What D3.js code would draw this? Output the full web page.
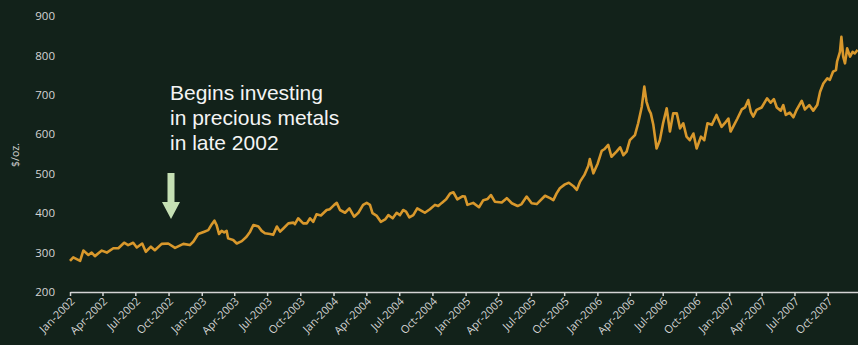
<!DOCTYPE html>
<html>
<head>
<meta charset="utf-8">
<script src="https://cdn.jsdelivr.net/npm/d3@7"></script>
<style>
  html, body { margin: 0; padding: 0; background: #12221a; }
  svg { display: block; }
</style>
</head>
<body>
<svg id="chart" width="858" height="345"></svg>
<script>
// gold price, $/oz
const dates = [
  "2002-01-01","2002-01-10","2002-01-29","2002-02-07","2002-02-21","2002-03-02","2002-03-11","2002-03-30",
  "2002-04-13","2002-05-01","2002-05-15","2002-05-31","2002-06-11","2002-06-25","2002-07-05","2002-07-20",
  "2002-07-30","2002-08-13","2002-08-24","2002-09-12","2002-09-30","2002-10-19","2002-11-11","2002-11-29",
  "2002-12-09","2002-12-22","2003-01-08","2003-01-19","2003-01-29","2003-02-05","2003-02-11","2003-02-18",
  "2003-02-25","2003-03-04","2003-03-11","2003-03-15","2003-03-29","2003-04-08","2003-04-22","2003-05-05",
  "2003-05-15","2003-05-24","2003-06-07","2003-06-16","2003-06-25","2003-07-09","2003-07-18","2003-07-28",
  "2003-08-06","2003-08-15","2003-08-29","2003-09-12","2003-09-16","2003-09-25","2003-10-09","2003-10-19",
  "2003-10-28","2003-11-06","2003-11-15","2003-11-27","2003-12-13","2003-12-22","2004-01-03","2004-01-10",
  "2004-01-19","2004-02-02","2004-02-14","2004-02-27","2004-03-10","2004-03-23","2004-04-02","2004-04-11",
  "2004-04-18","2004-04-30","2004-05-11","2004-05-23","2004-06-01","2004-06-13","2004-06-24","2004-07-03",
  "2004-07-12","2004-07-20","2004-07-29","2004-08-09","2004-08-20","2004-09-01","2004-09-10","2004-09-24",
  "2004-10-08","2004-10-17","2004-10-27","2004-11-08","2004-11-19","2004-11-28","2004-12-09","2004-12-24",
  "2004-12-30","2005-01-06","2005-01-22","2005-02-07","2005-02-19","2005-03-03","2005-03-12","2005-03-23",
  "2005-04-11","2005-04-25","2005-05-09","2005-05-25","2005-06-05","2005-06-19","2005-07-03","2005-07-17",
  "2005-08-09","2005-08-23","2005-09-01","2005-09-10","2005-09-19","2005-10-03","2005-10-14","2005-10-26",
  "2005-11-05","2005-11-14","2005-11-26","2005-12-07","2005-12-11","2005-12-21","2006-01-02","2006-01-13",
  "2006-01-20","2006-01-31","2006-02-09","2006-02-23","2006-03-05","2006-03-14","2006-03-23","2006-04-01",
  "2006-04-15","2006-04-24","2006-05-04","2006-05-11","2006-05-17","2006-05-24","2006-05-29","2006-06-05",
  "2006-06-14","2006-06-23","2006-07-02","2006-07-12","2006-07-21","2006-07-30","2006-08-09","2006-08-18",
  "2006-08-27","2006-09-05","2006-09-14","2006-09-24","2006-10-03","2006-10-15","2006-10-24","2006-11-02",
  "2006-11-14","2006-11-27","2006-12-11","2006-12-20","2006-12-30","2007-01-05","2007-01-12","2007-01-24",
  "2007-02-05","2007-02-14","2007-02-23","2007-03-02","2007-03-09","2007-03-18","2007-04-01","2007-04-16",
  "2007-04-26","2007-05-05","2007-05-13","2007-05-24","2007-05-31","2007-06-07","2007-06-18","2007-06-28",
  "2007-07-07","2007-07-21","2007-07-30","2007-08-11","2007-08-22","2007-09-02","2007-09-10","2007-09-19",
  "2007-09-30","2007-10-07","2007-10-16","2007-10-24","2007-10-27","2007-11-04","2007-11-08","2007-11-13",
  "2007-11-18","2007-11-24","2007-12-02","2007-12-09","2007-12-15","2007-12-23"
]
const prices = [
  279,288,279,305,294,300,291,305,
  300,311,311,325,319,325,313,323,
  302,315,306,322,323,312,322,319,
  328,347,353,357,372,381,370,347,
  355,351,355,336,332,323,329,340,
  353,370,366,355,349,347,345,366,
  353,361,374,376,372,387,374,374,
  387,378,397,394,408,410,421,426,
  408,401,412,391,401,421,426,421,
  400,393,378,384,395,387,401,395,
  408,404,389,395,412,406,401,410,
  421,418,426,435,450,453,435,443,
  442,421,426,415,433,436,446,429,
  427,438,425,418,423,442,425,423,
  444,438,433,450,463,473,477,469,
  459,480,497,520,537,501,526,558,
  562,573,543,556,567,547,556,585,
  598,628,670,721,683,662,653,624,
  564,585,628,666,607,653,653,615,
  628,594,585,602,564,594,585,628,
  624,649,619,628,640,607,619,640,
  663,668,687,657,645,662,668,691,
  680,689,668,660,674,649,655,643,
  662,685,663,674,660,674,708,729,
  742,738,759,763,784,809,847,797,
  780,818,797,809,805,814
]

const xTicks = ["Jan-2002","Apr-2002","Jul-2002","Oct-2002","Jan-2003","Apr-2003","Jul-2003","Oct-2003",
  "Jan-2004","Apr-2004","Jul-2004","Oct-2004","Jan-2005","Apr-2005","Jul-2005","Oct-2005",
  "Jan-2006","Apr-2006","Jul-2006","Oct-2006","Jan-2007","Apr-2007","Jul-2007","Oct-2007"]
const yTicks = [200, 300, 400, 500, 600, 700, 800, 900]
const noteLines = ["Begins investing", "in precious metals", "in late 2002"]

const parseDay = d3.timeParse("%Y-%m-%d")
const parseTick = d3.timeParse("%b-%Y")
const series = dates.map((d, i) => ({date: parseDay(d), price: prices[i]}))

const axisColor = "#d4d4d4"
const svg = d3.select("#chart")

const x = d3.scaleTime([parseDay("2002-01-01"), parseDay("2007-12-24")], [70, 858])
const y = d3.scaleLinear([200, 900], [292, 16])

// x axis
const xAxis = d3.axisBottom(x)
  .tickValues(xTicks.map(parseTick))
  .tickFormat(d3.timeFormat("%b-%Y"))
  .tickSize(4)
  .tickSizeOuter(0)

const gx = svg.append("g")
  .attr("transform", "translate(0, 292)")
  .call(xAxis)
gx.select(".domain").attr("stroke", axisColor).attr("stroke-width", 1.5)
gx.selectAll(".tick line").attr("stroke", axisColor).attr("stroke-width", 1.5)
gx.selectAll(".tick text")
  .attr("fill", axisColor)
  .attr("font-family", "Open Sans")
  .attr("font-size", "11px")
  .attr("text-anchor", "end")
  .attr("dy", 0)
  .attr("y", 0)
  .attr("transform", "translate(5, 10) rotate(-45)")

// y axis, labels only
const yAxis = d3.axisLeft(y).tickValues(yTicks).tickSize(0).tickPadding(0)
const gy = svg.append("g")
  .attr("transform", "translate(55, 0)")
  .call(yAxis)
gy.select(".domain").remove()
gy.selectAll(".tick text")
  .attr("fill", axisColor)
  .attr("font-family", "Open Sans")
  .attr("font-size", "11.5px")

svg.append("text")
  .text("$/oz.")
  .attr("transform", "translate(19, 155) rotate(-90)")
  .attr("text-anchor", "middle")
  .attr("font-family", "Open Sans")
  .attr("font-size", "10.5px")
  .attr("fill", axisColor)

// price line
const line = d3.line()
  .x(d => x(d.date))
  .y(d => y(d.price))

svg.append("path")
  .datum(series)
  .attr("d", line)
  .attr("fill", "none")
  .attr("stroke", "#d8982c")
  .attr("stroke-width", 2.6)
  .attr("stroke-linejoin", "round")

// annotation
svg.append("g")
  .selectAll("text")
  .data(noteLines)
  .join("text")
  .text(d => d)
  .attr("x", 170)
  .attr("y", (d, i) => 100 + 25 * i)
  .attr("font-family", "Liberation Sans")
  .attr("font-size", "21px")
  .attr("fill", "#f4f4f4")

svg.append("path")
  .attr("d", "M167.5,173 H174.5 V202 H180 L171,219 L162,202 H167.5 Z")
  .attr("fill", "#c5e0b4")
</script>
</body>
</html>
